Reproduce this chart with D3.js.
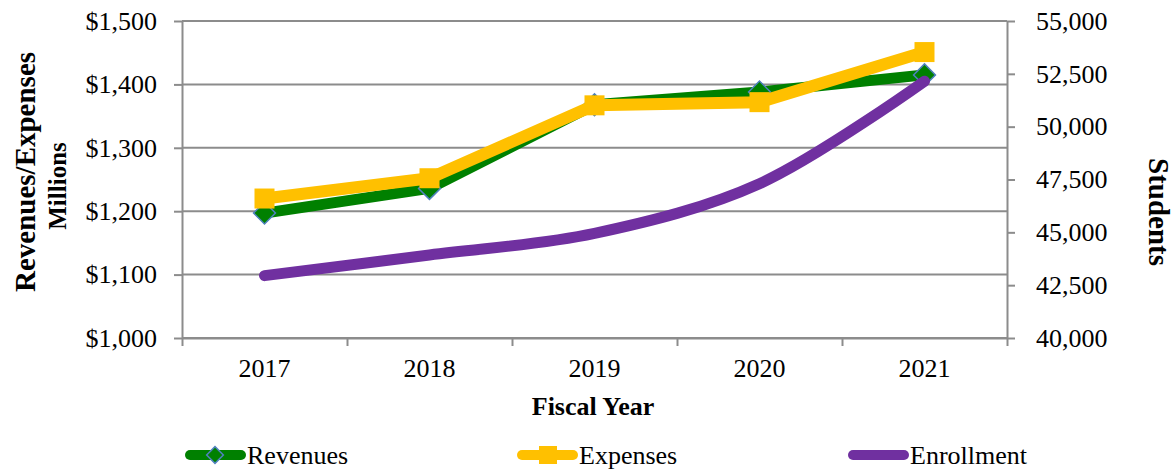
<!DOCTYPE html>
<html>
<head>
<meta charset="utf-8">
<script src="https://cdn.jsdelivr.net/npm/d3@7"></script>
<style>
  body { margin: 0; background: #fff; }
  svg { font-family: 'Liberation Serif', 'Times New Roman', serif; }
</style>
</head>
<body>
<svg id="chart" width="1175" height="470"></svg>
<script>
// data
const years = ['2017', '2018', '2019', '2020', '2021'];
const revenues = [1197, 1236, 1368, 1388, 1415];
const expenses = [1220, 1252, 1367, 1372, 1451];
const enrollment = [42950, 43930, 44950, 47300, 52150];
const leftTicks = [1000, 1100, 1200, 1300, 1400, 1500];
const rightTicks = [40000, 42500, 45000, 47500, 50000, 52500, 55000];

const svg = d3.select('#chart');
const plotLeft = 182, plotRight = 1007, plotTop = 21, plotBottom = 338;
const grey = '#8c8c8c';

const x = d3.scaleBand().domain(years).range([plotLeft, plotRight]);
const yL = d3.scaleLinear().domain([1000, 1500]).range([plotBottom, plotTop]);
const yR = d3.scaleLinear().domain([40000, 55000]).range([plotBottom, plotTop]);

// gridlines
svg
  .append('g')
  .selectAll('line')
  .data(leftTicks)
  .join('line')
  .attr('x1', plotLeft)
  .attr('x2', plotRight)
  .attr('y1', (d) => yL(d))
  .attr('y2', (d) => yL(d))
  .attr('stroke', grey)
  .attr('stroke-width', 2);

function styleAxis(g) {
  g.select('.domain').attr('stroke', grey).attr('stroke-width', 2);
  g.selectAll('.tick line').attr('stroke', grey).attr('stroke-width', 2);
  g.selectAll('text')
    .attr('font-family', "'Liberation Serif', 'Times New Roman', serif")
    .attr('font-size', 26)
    .attr('fill', '#000');
}

// left axis
svg
  .append('g')
  .attr('transform', `translate(${plotLeft},0)`)
  .call(
    d3
      .axisLeft(yL)
      .tickValues(leftTicks)
      .tickSize(8)
      .tickSizeOuter(0)
      .tickPadding(17)
      .tickFormat((d) => '$' + d3.format(',')(d))
  )
  .call(styleAxis);

// right axis
svg
  .append('g')
  .attr('transform', `translate(${plotRight},0)`)
  .call(
    d3
      .axisRight(yR)
      .tickValues(rightTicks)
      .tickSize(8)
      .tickSizeOuter(0)
      .tickPadding(21)
      .tickFormat(d3.format(','))
  )
  .call(styleAxis);

// bottom axis: labels at category centres, ticks between categories
svg
  .append('g')
  .attr('transform', `translate(0,${plotBottom})`)
  .call(d3.axisBottom(x).tickSize(0).tickPadding(21))
  .call(styleAxis)
  .call((g) => g.select('.domain').remove());

const xb = d3.scaleLinear().domain([0, years.length]).range([plotLeft, plotRight]);
svg
  .append('g')
  .attr('transform', `translate(0,${plotBottom})`)
  .call(d3.axisBottom(xb).ticks(years.length).tickSize(8).tickSizeOuter(0).tickFormat(''))
  .call(styleAxis);

// axis titles
svg
  .append('text')
  .attr('transform', 'translate(35,172) rotate(-90)')
  .attr('text-anchor', 'middle')
  .attr('font-weight', 'bold')
  .attr('font-size', 29)
  .text('Revenues/Expenses');
svg
  .append('text')
  .attr('transform', 'translate(66,186) rotate(-90)')
  .attr('text-anchor', 'middle')
  .attr('font-weight', 'bold')
  .attr('font-size', 25)
  .text('Millions');
svg
  .append('text')
  .attr('transform', 'translate(1149,212) rotate(90)')
  .attr('text-anchor', 'middle')
  .attr('font-weight', 'bold')
  .attr('font-size', 29)
  .text('Students');
svg
  .append('text')
  .attr('x', 593)
  .attr('y', 415)
  .attr('text-anchor', 'middle')
  .attr('font-weight', 'bold')
  .attr('font-size', 26)
  .text('Fiscal Year');

const cx = (d, i) => x(years[i]) + x.bandwidth() / 2;

// revenues
const lineL = d3.line().x(cx).y((d) => yL(d));
svg
  .append('path')
  .datum(revenues)
  .attr('d', lineL)
  .attr('fill', 'none')
  .attr('stroke', '#008000')
  .attr('stroke-width', 11)
  .attr('stroke-linejoin', 'round');
svg
  .append('g')
  .selectAll('path')
  .data(revenues)
  .join('path')
  .attr('d', d3.symbol(d3.symbolSquare, 240))
  .attr('transform', (d, i) => `translate(${cx(d, i)},${yL(d)}) rotate(45)`)
  .attr('fill', '#008000')
  .attr('stroke', '#4f81bd')
  .attr('stroke-width', 1.5);

// expenses
svg
  .append('path')
  .datum(expenses)
  .attr('d', lineL)
  .attr('fill', 'none')
  .attr('stroke', '#ffc000')
  .attr('stroke-width', 12)
  .attr('stroke-linejoin', 'round');
svg
  .append('g')
  .selectAll('rect')
  .data(expenses)
  .join('rect')
  .attr('x', (d, i) => cx(d, i) - 10)
  .attr('y', (d) => yL(d) - 10)
  .attr('width', 20)
  .attr('height', 20)
  .attr('fill', '#ffc000');

// enrollment
svg
  .append('path')
  .datum(enrollment)
  .attr('d', d3.line().x(cx).y((d) => yR(d)).curve(d3.curveCatmullRom))
  .attr('fill', 'none')
  .attr('stroke', '#7030a0')
  .attr('stroke-width', 11)
  .attr('stroke-linecap', 'round');

// legend
const legendNames = ['Revenues', 'Expenses', 'Enrollment'];
const legendColors = ['#008000', '#ffc000', '#7030a0'];
const legendX = [185, 517, 848];
const ly = 455;
const items = svg
  .append('g')
  .selectAll('g')
  .data(legendNames)
  .join('g')
  .attr('transform', (d, i) => `translate(${legendX[i]},${ly})`);
items
  .append('line')
  .attr('x1', 5)
  .attr('x2', 56)
  .attr('stroke', (d, i) => legendColors[i])
  .attr('stroke-width', 10)
  .attr('stroke-linecap', 'round');
items
  .filter((d, i) => i === 0)
  .append('path')
  .attr('d', d3.symbol(d3.symbolSquare, 140))
  .attr('transform', 'translate(30,0) rotate(45)')
  .attr('fill', '#008000')
  .attr('stroke', '#4f81bd')
  .attr('stroke-width', 1.5);
items
  .filter((d, i) => i === 1)
  .append('rect')
  .attr('x', 22)
  .attr('y', -9)
  .attr('width', 18)
  .attr('height', 18)
  .attr('fill', '#ffc000');
items
  .append('text')
  .attr('x', 62)
  .attr('y', 9)
  .attr('font-size', 26)
  .text((d) => d);
</script>
</body>
</html>
